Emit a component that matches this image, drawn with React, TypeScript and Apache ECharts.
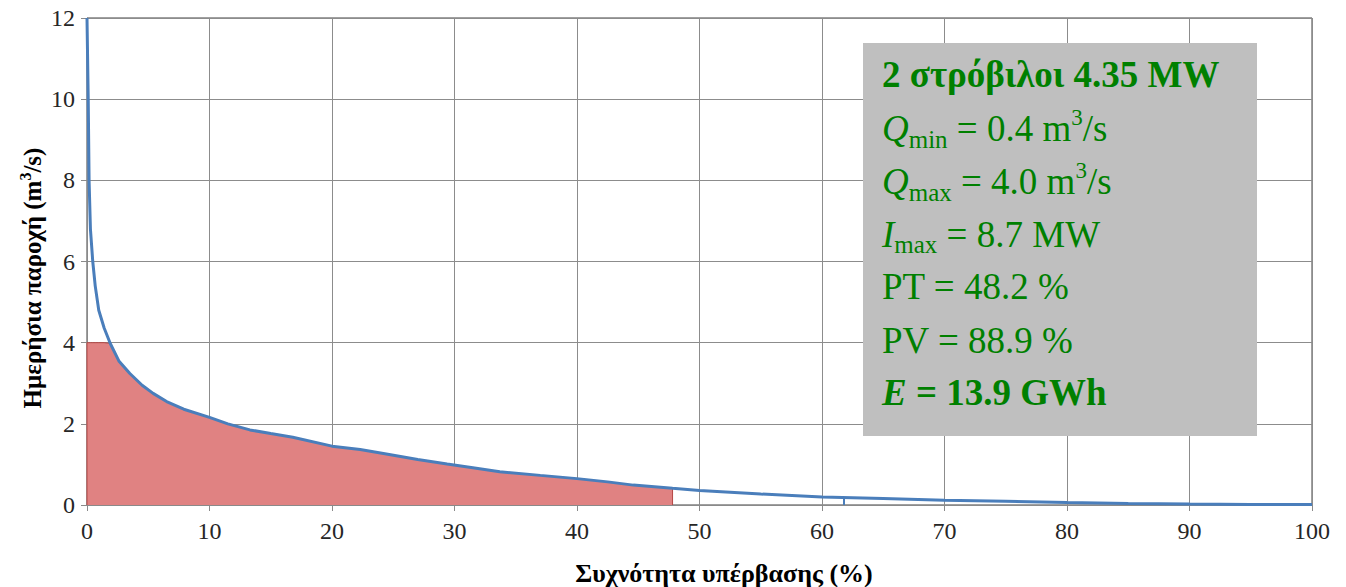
import React, { useEffect, useRef } from 'react';
import * as echarts from 'echarts';

// Flow duration curve: exceedance frequency (%) vs daily flow (m3/s)
const exceedance = [0, 0.1, 0.17, 0.28, 0.47, 0.67, 0.96, 1.4, 1.9, 2.6, 3.5, 4.5, 5.4, 6.5, 7.9, 10, 11.5, 13.3, 15, 16.8, 20, 22.3, 24.2, 27, 29.4, 31.5, 33.7, 37, 40, 42.5, 44.6, 47.8, 50, 55, 60, 65, 70, 75, 80, 85, 90, 95, 100];
const flow = [12, 10, 8.0, 6.8, 6.0, 5.4, 4.8, 4.36, 3.98, 3.55, 3.24, 2.95, 2.75, 2.55, 2.36, 2.16, 2.0, 1.85, 1.76, 1.67, 1.45, 1.37, 1.27, 1.12, 1.01, 0.92, 0.82, 0.73, 0.65, 0.57, 0.49, 0.41, 0.36, 0.27, 0.2, 0.16, 0.12, 0.09, 0.06, 0.04, 0.025, 0.015, 0.01];

const qMax = 4.0; // turbine maximum flow
const ptLimit = 47.8; // exceedance where flow drops to Qmin
const markerX = 61.8;
const markerTop = 0.18;

const xTickValues = [0, 10, 20, 30, 40, 50, 60, 70, 80, 90, 100];
const yTickValues = [0, 2, 4, 6, 8, 10, 12];

const infoLines = [
  '{b|2 στρόβιλοι 4.35 MW}',
  '{i|Q}{sub|min}{n| = 0.4 m}{sup|3}{n|/s}',
  '{i|Q}{sub|max}{n| = 4.0 m}{sup|3}{n|/s}',
  '{i|I}{sub|max}{n| = 8.7 MW}',
  '{n|PT = 48.2 %}',
  '{n|PV = 88.9 %}',
  '{bi|E}{b| = 13.9 GWh}',
];

const SERIF = 'Liberation Serif';
const GREEN = '#008000';

export default function App() {
  const ref = useRef<HTMLDivElement>(null);

  useEffect(() => {
    const chart = echarts.init(ref.current!, null, { renderer: 'svg' });
    const curve = exceedance.map((x, i) => [x, flow[i]]);
    const red = [
      [0, 0],
      ...curve.filter((p) => p[0] <= ptLimit).map((p) => [p[0], Math.min(p[1], qMax)]),
      [ptLimit, 0],
    ];

    const FS = 37;
    const LH = 46;
    const base = { fontFamily: SERIF, fill: GREEN, fontSize: FS, lineHeight: LH };
    const rich = {
      n: { ...base },
      i: { ...base, fontStyle: 'italic' },
      b: { ...base, fontWeight: 'bold' },
      bi: { ...base, fontWeight: 'bold', fontStyle: 'italic' },
      sub: { fontFamily: SERIF, fill: GREEN, fontSize: 25, lineHeight: 20, verticalAlign: 'bottom' },
      sup: { fontFamily: SERIF, fill: GREEN, fontSize: 23, lineHeight: 38, verticalAlign: 'top' },
    };
    const baselines = [86.7, 141, 194, 246.7, 299.3, 353.3, 405];
    const baseOffset = LH / 2 + 0.3375 * FS;

    const graphics: any[] = [
      {
        type: 'rect',
        shape: { x: 863, y: 43, width: 394, height: 393 },
        style: { fill: '#bfbfbf' },
        z: 10,
      },
      ...infoLines.map((t, i) => ({
        type: 'text',
        x: 882,
        y: baselines[i] - baseOffset,
        z: 11,
        style: { text: t, rich, textAlign: 'left', verticalAlign: 'top', fontFamily: SERIF, fontSize: FS, fill: GREEN },
      })),
      {
        type: 'text',
        x: 724,
        y: 573,
        style: {
          text: 'Συχνότητα υπέρβασης (%)',
          fontFamily: SERIF,
          fontWeight: 'bold',
          fontSize: 26,
          fill: '#000',
          textAlign: 'center',
          verticalAlign: 'middle',
        },
      },
      {
        type: 'text',
        x: 32,
        y: 278,
        rotation: Math.PI / 2,
        style: {
          text: '{t|Ημερήσια παροχή (m}{s|3}{t|/s)}',
          rich: {
            t: { fontFamily: SERIF, fontWeight: 'bold', fontSize: 25, lineHeight: 30, fill: '#000' },
            s: { fontFamily: SERIF, fontWeight: 'bold', fontSize: 16, lineHeight: 20, fill: '#000', verticalAlign: 'top' },
          },
          textAlign: 'center',
          verticalAlign: 'middle',
        },
      },
    ];

    chart.setOption({
      animation: false,
      backgroundColor: '#ffffff',
      textStyle: { fontFamily: SERIF },
      grid: {
        left: 87,
        right: 34,
        top: 18,
        bottom: 82,
        show: true,
        borderColor: '#404040',
        borderWidth: 1,
        backgroundColor: 'transparent',
      },
      xAxis: {
        type: 'value',
        min: xTickValues[0],
        max: xTickValues[xTickValues.length - 1],
        interval: 10,
        axisLine: { show: true, lineStyle: { color: '#8a8a8a', width: 1 } },
        axisTick: { show: true, length: 6, lineStyle: { color: '#8a8a8a' } },
        splitLine: { show: true, lineStyle: { color: '#8c8c8c', width: 1 } },
        axisLabel: { fontFamily: SERIF, fontSize: 24, color: '#262626', margin: 14 },
      },
      yAxis: {
        type: 'value',
        min: yTickValues[0],
        max: yTickValues[yTickValues.length - 1],
        interval: 2,
        axisLine: { show: true, lineStyle: { color: '#8a8a8a', width: 1 } },
        axisTick: { show: true, length: 6, lineStyle: { color: '#8a8a8a' } },
        splitLine: { show: true, lineStyle: { color: '#8c8c8c', width: 1 } },
        axisLabel: { fontFamily: SERIF, fontSize: 24, color: '#262626', margin: 12 },
      },
      graphic: graphics,
      series: [
        {
          type: 'line',
          data: red,
          showSymbol: false,
          symbol: 'none',
          lineStyle: { color: '#b54744', width: 1 },
          areaStyle: { color: '#e08282', opacity: 1 },
          z: 2,
          silent: true,
        },
        {
          type: 'line',
          data: curve,
          showSymbol: false,
          symbol: 'none',
          lineStyle: { color: '#4a7ebb', width: 3 },
          z: 3,
          silent: true,
          markLine: {
            silent: true,
            symbol: ['none', 'none'],
            label: { show: false },
            lineStyle: { color: '#4a7ebb', width: 2, type: 'solid' },
            data: [[{ coord: [markerX, 0] }, { coord: [markerX, markerTop] }]],
          },
        },
      ],
    });

    return () => chart.dispose();
  }, []);

  return (
    <div
      ref={ref}
      style={{ position: 'fixed', left: 0, top: 0, width: 1346, height: 587, background: '#fff' }}
    />
  );
}
